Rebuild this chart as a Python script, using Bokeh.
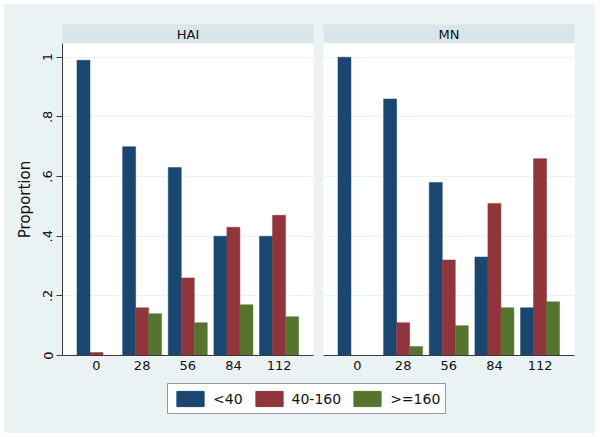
from bokeh.plotting import figure
from bokeh.models import Range1d, FixedTicker, Legend, LegendItem, ColumnDataSource, Grid
from bokeh.layouts import column, row
from bokeh.transform import dodge
from bokeh.embed import file_html
from bokeh.resources import INLINE
from bokeh.core.properties import value

# ---------------- data ----------------
days = ["0", "28", "56", "84", "112"]
groups = ["<40", "40-160", ">=160"]
panels = ["HAI", "MN"]
hai_lt40 = [0.99, 0.70, 0.63, 0.40, 0.40]
hai_40_160 = [0.01, 0.16, 0.26, 0.43, 0.47]
hai_ge160 = [0.00, 0.14, 0.11, 0.17, 0.13]
mn_lt40 = [1.00, 0.86, 0.58, 0.33, 0.16]
mn_40_160 = [0.00, 0.11, 0.32, 0.51, 0.66]
mn_ge160 = [0.00, 0.03, 0.10, 0.16, 0.18]
y_ticks = [0, 0.2, 0.4, 0.6, 0.8, 1.0]
y_tick_labels = ["0", ".2", ".4", ".6", ".8", "1"]
y_title = "Proportion"

# ---------------- styles ----------------
colors = ["#1A476F", "#90353B", "#55752F"]
BG = "#EAF2F3"
STRIP = "#D9E5EA"
GRID = "#EAF2F3"
AXIS = "#3a3a3a"
FONT = "DejaVu Sans"
BAR_W = 0.285
LEFT_W, RIGHT_W = 314, 277
LEFT_B = 58


def make_panel(series, left):
    kw = dict(
        width=LEFT_W if left else RIGHT_W,
        height=335,
        x_range=Range1d(-0.745, 4.755),
        y_range=Range1d(0, 1.046),
        output_backend="svg",
        toolbar_location=None,
        min_border_left=LEFT_B if left else 5,
        min_border_right=5 if left else 21,
        min_border_top=0,
        min_border_bottom=23,
    )
    if not left:
        kw["y_axis_location"] = None
    p = figure(**kw)
    p.background_fill_color = "white"
    p.border_fill_color = BG
    p.outline_line_color = None

    src = ColumnDataSource(dict(x=list(range(len(days))), a=series[0], b=series[1], c=series[2]))
    for off, col, c in zip([-BAR_W, 0.0, BAR_W], ["a", "b", "c"], colors):
        p.vbar(x=dodge("x", off), top=col, width=BAR_W, source=src,
               fill_color=c, line_color=c, line_width=0.5)

    xa = p.xaxis[0]
    xa.ticker = FixedTicker(ticks=list(range(len(days))))
    xa.major_label_overrides = {i: d for i, d in enumerate(days)}
    xa.major_tick_out = 0
    xa.major_tick_in = 0
    xa.minor_tick_line_color = None
    xa.axis_line_color = AXIS
    xa.axis_line_width = 1
    xa.major_label_standoff = 5
    xa.major_label_text_font = FONT
    xa.major_label_text_font_size = "13px"
    xa.major_label_text_color = "#111111"
    p.xgrid.visible = False

    if left:
        ya = p.yaxis[0]
        ya.ticker = FixedTicker(ticks=y_ticks)
        ya.major_label_overrides = {t: l for t, l in zip(y_ticks, y_tick_labels)}
        ya.major_label_orientation = "vertical"
        ya.major_tick_out = 6
        ya.major_tick_in = 0
        ya.major_tick_line_color = AXIS
        ya.minor_tick_line_color = None
        ya.axis_line_color = AXIS
        ya.major_label_standoff = 4
        ya.major_label_text_font = FONT
        ya.major_label_text_font_size = "13px"
        ya.major_label_text_color = "#111111"
        ya.axis_label = y_title
        ya.axis_label_standoff = 7
        ya.axis_label_text_font = FONT
        ya.axis_label_text_font_size = "15px"
        ya.axis_label_text_font_style = "normal"
        ya.axis_label_text_color = "#111111"
        p.ygrid.ticker = FixedTicker(ticks=y_ticks[1:])
        p.ygrid.grid_line_color = GRID
    else:
        for g in p.ygrid:
            g.visible = False
        p.add_layout(Grid(dimension=1, ticker=FixedTicker(ticks=y_ticks[1:]),
                          grid_line_color=GRID), "center")
    return p


def make_strip(label, left):
    s = figure(
        width=LEFT_W if left else RIGHT_W,
        height=39,
        x_range=Range1d(0, 1),
        y_range=Range1d(0, 1),
        output_backend="svg",
        toolbar_location=None,
        x_axis_location=None,
        y_axis_location=None,
        min_border_left=LEFT_B if left else 5,
        min_border_right=5 if left else 21,
        min_border_top=20,
        min_border_bottom=0,
    )
    s.background_fill_color = STRIP
    s.border_fill_color = BG
    s.outline_line_color = None
    s.grid.visible = False
    s.text(x=[0.5], y=[0.45], text=[label], text_align="center", text_baseline="middle",
           text_font=value(FONT), text_font_size="13px", text_color="#111111")
    return s


p1 = make_panel([hai_lt40, hai_40_160, hai_ge160], True)
p2 = make_panel([mn_lt40, mn_40_160, mn_ge160], False)
s1 = make_strip(panels[0], True)
s2 = make_strip(panels[1], False)

# legend figure (legend renderers are hidden; only their swatches are shown)
lg = figure(width=LEFT_W + RIGHT_W, height=55, x_range=Range1d(0, 1), y_range=Range1d(0, 1),
            output_backend="svg", toolbar_location=None,
            x_axis_location=None, y_axis_location=None,
            min_border_left=0, min_border_right=0, min_border_top=0, min_border_bottom=0)
lg.background_fill_color = BG
lg.border_fill_color = BG
lg.outline_line_color = None
lg.grid.visible = False
items = []
for g, c, ser in zip(groups, colors, [hai_lt40, hai_40_160, hai_ge160]):
    r = lg.vbar(x=[0], top=[ser[0]], width=0.1, fill_color=c, line_color=c, visible=False)
    items.append(LegendItem(label=g, renderers=[r]))
legend = Legend(items=items, location=(163, 19), orientation="horizontal",
                border_line_color="#333333", border_line_width=1,
                background_fill_color="white", background_fill_alpha=1.0,
                padding=5, spacing=9, label_standoff=6, margin=0,
                glyph_width=34, glyph_height=19, label_height=19,
                label_text_font=FONT, label_text_font_size="14px",
                label_text_color="#111111")
lg.add_layout(legend, "center")

bgstyle = {"background-color": BG}
layout = column(row(s1, s2, styles=bgstyle), row(p1, p2, styles=bgstyle), lg,
                margin=(4, 0, 0, 4), styles=bgstyle)
open("out.html", "w").write(file_html(layout, INLINE))
